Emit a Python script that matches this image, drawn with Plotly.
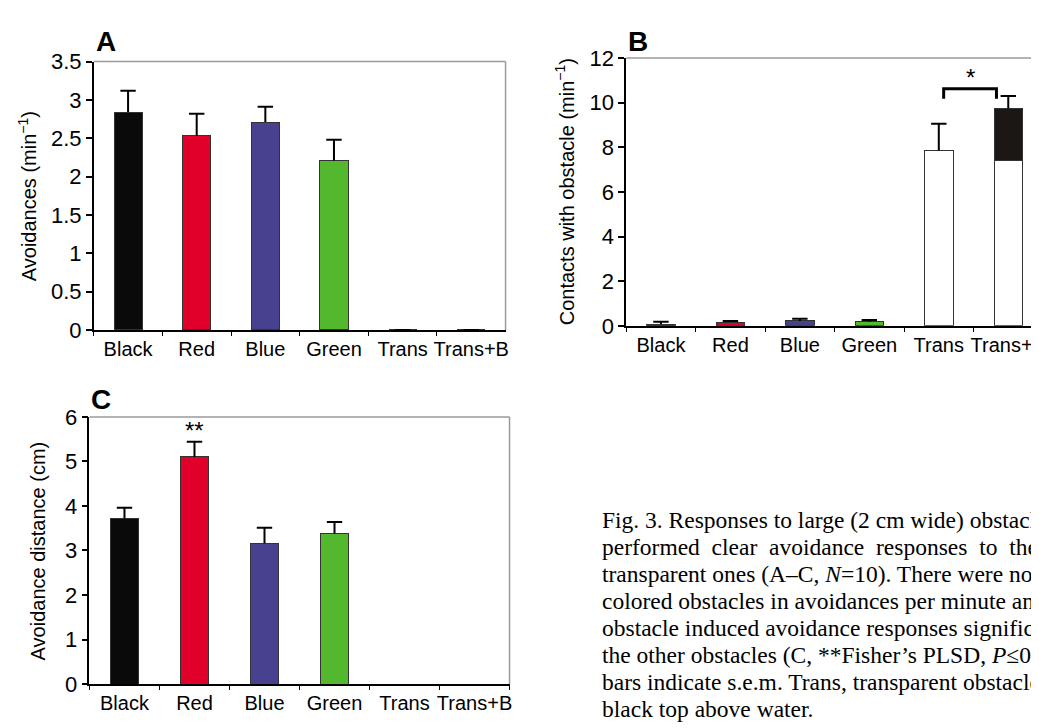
import plotly.graph_objects as go

# ---------------- data ----------------
categories = ["Black", "Red", "Blue", "Green", "Trans", "Trans+B"]

# Panel A: avoidances per minute
avoid_mean = [2.84, 2.53, 2.71, 2.21, 0.0, 0.0]
avoid_sem = [0.28, 0.29, 0.20, 0.27, 0.0, 0.0]

# Panel B: contacts with obstacle per minute (Trans+B split: below-water part + black top)
contact_mean = [0.08, 0.17, 0.22, 0.18, 7.85, 7.39]
contact_top = [None, None, None, None, None, 2.35]
contact_sem = [0.10, 0.05, 0.10, 0.08, 1.20, 0.55]

# Panel C: avoidance distance (cm)
dist_mean = [3.72, 5.10, 3.16, 3.38, None, None]
dist_sem = [0.24, 0.34, 0.35, 0.26, None, None]

# significance markers
bracket_x = [4.07, 4.83]
bracket_y = [10.17, 10.62]

caption_lines = [
    "Fig. 3. Responses to large (2 cm wide) obstacles",
    "performed\u00a0\u00a0clear\u00a0\u00a0avoidance\u00a0\u00a0responses\u00a0\u00a0to\u00a0\u00a0the",
    "transparent ones (A–C, <i>N</i>=10). There were no",
    "colored obstacles in avoidances per minute and",
    "obstacle induced avoidance responses significantly",
    "the other obstacles (C, **Fisher’s PLSD, <i>P</i>≤0.01",
    "bars indicate s.e.m. Trans, transparent obstacles",
    "black top above water.",
]

# ---------------- styles ----------------
bar_colors = ["#0a0a0a", "#e00029", "#47418f", "#53b82e", "#ffffff", "#ffffff"]
top_color = "#1c1715"
SANS = "Liberation Sans, Arial, sans-serif"
SERIF = "Liberation Serif, Times New Roman, serif"
W, H = 1039, 728


def px_dom(a, b, total):
    return [a / total, b / total]


def ydom(top, bottom):
    return [1 - bottom / H, 1 - top / H]


panels = {
    "A": dict(x=px_dom(86, 499, W), y=ydom(43, 321)),
    "B": dict(x=px_dom(620, 1038, W), y=ydom(39.3, 316.7)),
    "C": dict(x=px_dom(81.7, 503, W), y=ydom(411, 687.7)),
}

fig = go.Figure()
BAR_W = 0.41


def add_errors(fig, xa, ya, base, sem):
    xs, ys, cx, cy = [], [], [], []
    for c, b, e in zip(categories, base, sem):
        if b is None or e is None:
            continue
        xs += [c, c, None]
        ys += [b, b + e, None]
        cx.append(c)
        cy.append(b + e)
    fig.add_trace(go.Scatter(x=xs, y=ys, mode="lines", xaxis=xa, yaxis=ya,
                             line=dict(color="black", width=2), hoverinfo="skip"))
    fig.add_trace(go.Scatter(x=cx, y=cy, mode="markers", xaxis=xa, yaxis=ya,
                             marker=dict(symbol="line-ew", size=11,
                                         line=dict(color="black", width=2)),
                             hoverinfo="skip"))


# Panel A
fig.add_trace(go.Bar(x=categories, y=avoid_mean, xaxis="x", yaxis="y", width=BAR_W,
                     marker=dict(color=bar_colors, line=dict(color="#333333", width=1))))
add_errors(fig, "x", "y", avoid_mean, avoid_sem)

# Panel B
fig.add_trace(go.Bar(x=categories, y=contact_mean, xaxis="x2", yaxis="y2", width=BAR_W,
                     marker=dict(color=bar_colors, line=dict(color="#333333", width=1))))
fig.add_trace(go.Bar(x=categories, y=contact_top, xaxis="x2", yaxis="y2", width=BAR_W,
                     marker=dict(color=top_color, line=dict(color="#333333", width=1))))
contact_total = [m + (t or 0) for m, t in zip(contact_mean, contact_top)]
add_errors(fig, "x2", "y2", contact_total, contact_sem)

# Panel C
fig.add_trace(go.Bar(x=categories, y=dist_mean, xaxis="x3", yaxis="y3", width=BAR_W,
                     marker=dict(color=bar_colors, line=dict(color="#333333", width=1))))
add_errors(fig, "x3", "y3", dist_mean, dist_sem)

xcommon = dict(type="category", categoryorder="array", categoryarray=categories,
               range=[-0.5, 5.5], tickson="boundaries", ticks="outside", ticklen=4,
               tickwidth=1.2, tickcolor="black", showline=True, linecolor="black",
               linewidth=1.5, showgrid=False, zeroline=False, tickangle=0,
               tickfont=dict(family=SANS, size=20, color="black"), fixedrange=True)
ycommon = dict(ticks="outside", ticklen=6, tickwidth=1.5, tickcolor="black",
               showline=True, linecolor="black", linewidth=1.5, showgrid=False,
               zeroline=False, tickfont=dict(family=SANS, size=22, color="black"),
               fixedrange=True)

fig.update_layout(
    xaxis=dict(xcommon, domain=panels["A"]["x"], anchor="y"),
    yaxis=dict(ycommon, domain=panels["A"]["y"], anchor="x", range=[0, 3.5], dtick=0.5),
    xaxis2=dict(xcommon, domain=panels["B"]["x"], anchor="y2"),
    yaxis2=dict(ycommon, domain=panels["B"]["y"], anchor="x2", range=[0, 12], dtick=2),
    xaxis3=dict(xcommon, domain=panels["C"]["x"], anchor="y3"),
    yaxis3=dict(ycommon, domain=panels["C"]["y"], anchor="x3", range=[0, 6], dtick=1),
    barmode="stack",
    width=W, height=H,
    margin=dict(l=0, r=0, t=0, b=0),
    paper_bgcolor="white", plot_bgcolor="white",
    showlegend=False,
)

# gray top/right frame lines
shapes = []
for xr, yr in [("x", "y"), ("x2", "y2"), ("x3", "y3")]:
    shapes.append(dict(type="line", xref=f"{xr} domain", yref=f"{yr} domain",
                       x0=0, x1=1, y0=1, y1=1, line=dict(color="#9a9a9a", width=1.5)))
    shapes.append(dict(type="line", xref=f"{xr} domain", yref=f"{yr} domain",
                       x0=1, x1=1, y0=0, y1=1, line=dict(color="#9a9a9a", width=1.5)))
# significance bracket in B
shapes.append(dict(type="path", xref="x2", yref="y2",
                   path=f"M {bracket_x[0]},{bracket_y[0]} L {bracket_x[0]},{bracket_y[1]} "
                        f"L {bracket_x[1]},{bracket_y[1]} L {bracket_x[1]},{bracket_y[0]}",
                   line=dict(color="black", width=3)))
fig.update_layout(shapes=shapes)

ann = []
# panel letters
for letter, (px, py) in {"A": (98, 22), "B": (632, 22), "C": (93, 393)}.items():
    ann.append(dict(text=f"<b>{letter}</b>", x=px / W, y=1 - py / H, xref="paper", yref="paper",
                    showarrow=False, xanchor="center", yanchor="middle",
                    font=dict(family=SANS, size=28, color="black")))
# y axis titles
for txt, px, (yt, yb) in [("Avoidances (min<sup>−1</sup>)", 19.5, (43, 321)),
                          ("Contacts with obstacle (min<sup>−1</sup>)", 559, (39.3, 316.7)),
                          ("Avoidance distance (cm)", 31, (411, 687.7))]:
    ann.append(dict(text=txt, x=px / W, y=1 - (yt + yb) / 2 / H, xref="paper", yref="paper",
                    showarrow=False, textangle=-90, xanchor="center", yanchor="middle",
                    font=dict(family=SANS, size=20, color="black")))
# stars
ann.append(dict(text="*", x=(bracket_x[0] + bracket_x[1]) / 2, y=bracket_y[1], xref="x2", yref="y2",
                showarrow=False, yanchor="bottom", yshift=-4,
                font=dict(family=SANS, size=24, color="black")))
ann.append(dict(text="**", x=categories[1], y=dist_mean[1] + dist_sem[1], xref="x3", yref="y3",
                showarrow=False, yanchor="bottom", yshift=-4,
                font=dict(family=SANS, size=24, color="black")))
# caption
for i, line in enumerate(caption_lines):
    ann.append(dict(text=line, x=594 / W, y=1 - (518 + 27.86 * i) / H, xref="paper", yref="paper",
                    showarrow=False, xanchor="left", yanchor="middle", align="left",
                    font=dict(family=SERIF, size=23.5, color="black")))
fig.update_layout(annotations=ann)

fig.write_html("out.html")
